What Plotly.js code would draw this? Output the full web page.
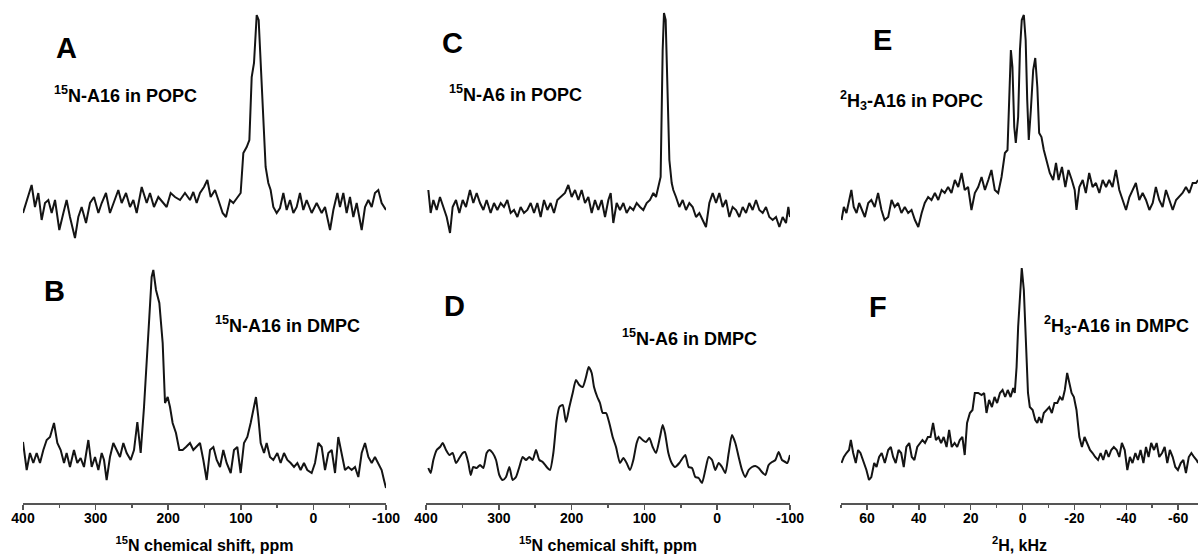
<!DOCTYPE html>
<html><head><meta charset="utf-8">
<script src="https://cdn.plot.ly/plotly-3.0.1.min.js"></script>
<style>html,body{margin:0;padding:0;background:#fff}#chart{width:1198px;height:557px}</style>
</head><body><div id="chart"></div>
<script>
// ---- Panel A: 15N-A16 in POPC (ppm vs intensity) ----
const ppmA = [400,394.9,388.1,383.5,378.9,374.3,369.7,365.1,360.5,355.9,350.0,344.4,339.9,335.3,328.4,323.8,319.2,313.2,307.7,302.2,296.2,291.6,285.7,280.2,273.3,268.7,264.1,258.1,252.6,248.0,243.4,236.5,229.6,225.1,219.6,213.6,206.7,202.1,196.6,190.6,183.7,176.9,170.0,165.4,160.8,156.2,150.7,146.1,141.5,135.5,130.9,125.0,120.4,114.9,110.3,104.8,100.2,96.5,91.9,88.2,85.0,81.8,78.1,75.4,72.6,69.0,65.8,62.1,58.9,55.2,50.6,46.0,41.4,36.8,32.2,27.6,23.0,18.5,13.9,9.3,2.4,-4.5,-11.4,-16.0,-22.9,-27.5,-33.0,-36.6,-41.2,-45.8,-50.4,-55.0,-59.6,-66.5,-71.1,-75.7,-80.3,-84.8,-89.4,-94.0,-100];
const intA = [-3,10,25,3,17,-10,7,10,-3,10,-20,-3,10,-7,-28,-7,3,-13,7,13,-3,7,17,-3,10,20,7,17,3,10,-3,23,7,17,3,13,7,3,17,13,10,17,10,18,7,17,23,30,13,20,10,-3,-7,10,7,13,17,57,63,70,133,147,195,190,143,83,43,27,20,3,-3,2,17,0,10,-3,3,17,0,10,-3,7,-3,3,-20,0,17,3,17,-3,13,-7,7,-20,3,10,3,17,20,7,0];

// ---- Panel B: 15N-A16 in DMPC ----
const ppmB = [400,394.9,390.4,385.8,381.2,376.6,372.0,367.4,362.8,357.3,352.7,348.1,343.5,339.9,335.3,329.8,325.2,320.6,316.0,310.0,305.4,300.8,296.2,291.6,288.4,284.8,280.2,275.6,271.0,266.4,261.8,257.2,251.7,247.1,242.5,237.9,233.3,229.7,226.0,222.8,220.5,216.8,212.2,207.6,204.4,200.7,197.5,193.9,189.3,184.7,180.1,175.5,170.0,165.4,160.8,156.2,151.6,147.0,142.4,137.8,133.2,128.6,124.1,119.5,113.9,109.4,104.8,100.2,95.6,91.0,86.4,82.7,79.1,75.9,72.6,68.0,64.4,59.8,55.2,49.7,45.1,40.5,35.9,31.3,26.7,22.1,17.6,13.0,8.4,2.4,-2.2,-6.8,-11.4,-16.0,-20.6,-25.2,-29.8,-34.3,-38.9,-43.5,-48.1,-52.7,-57.3,-61.9,-66.5,-71.1,-75.7,-80.3,-84.8,-89.4,-94.0,-97.2,-100];
const intB = [13,-15,2,-8,2,-8,5,15,18,32,12,5,-8,2,-12,5,-8,-3,-12,15,-12,-2,-15,2,-5,-25,-2,12,5,-2,12,2,-5,5,33,2,48,88,138,178,185,165,152,112,52,58,48,32,22,5,5,8,12,5,8,12,-5,-25,5,8,-5,-12,5,-8,-18,5,8,-18,12,18,32,45,58,38,12,2,12,-2,-5,2,-8,2,-5,-8,-12,-8,-15,-8,-15,-18,-8,12,8,-15,2,5,-18,18,2,-15,-12,-15,-12,-22,2,12,-2,-8,-2,-8,-15,-25,-33];

// ---- Panel C: 15N-A6 in POPC ----
const ppmC = [396.8,393.6,389.9,385.3,380.8,376.2,371.6,367.0,363.4,358.8,354.2,349.6,345.1,339.6,335.0,330.4,325.8,321.2,316.7,311.2,306.6,302.0,297.4,292.9,288.3,283.7,279.1,274.5,270.0,265.4,260.8,256.2,251.6,247.1,242.5,237.9,233.3,228.8,224.2,219.6,215.0,209.1,204.5,199.9,195.3,190.7,186.2,181.6,177.0,172.4,167.9,163.3,158.7,154.1,149.5,146.3,142.7,138.1,133.5,128.9,124.4,119.8,115.2,110.6,106.0,101.5,96.9,92.3,87.7,84.1,80.9,77.7,74.9,73.1,70.8,68.0,65.7,62.5,60.3,56.6,52.0,47.4,42.9,38.3,33.7,29.1,24.5,20.0,15.4,10.8,6.2,1.6,-2.9,-7.5,-12.1,-16.7,-21.2,-25.8,-30.4,-35.0,-39.6,-44.1,-48.7,-53.3,-57.9,-62.5,-67.0,-71.6,-76.2,-80.8,-85.4,-89.9,-94.5,-97.7,-100];
const intC = [20,-3,10,0,13,3,-7,-23,3,10,-3,10,3,20,7,17,7,0,10,-3,7,0,7,3,10,-3,0,-7,3,-3,0,7,-3,7,-7,10,0,7,-3,10,13,17,25,13,20,10,20,7,13,-3,10,0,10,-7,10,17,-13,7,0,7,-3,3,0,7,3,0,7,10,17,13,23,33,160,197,190,110,50,27,20,13,3,10,0,7,3,-7,-3,-10,-17,7,17,7,17,3,10,-7,3,0,-7,3,-3,7,0,10,0,-3,3,-7,-10,-7,-17,-7,-13,3,-7];

// ---- Panel D: 15N-A6 in DMPC ----
const ppmD = [396.8,393.6,389.9,385.3,380.8,377.1,372.5,367.9,363.4,358.8,354.2,349.6,346.4,341.8,338.6,335.0,330.4,325.8,321.2,316.7,313.0,308.4,303.8,299.3,294.7,290.1,285.5,281.0,276.4,271.8,267.2,262.6,258.1,253.5,248.9,244.3,239.7,234.2,229.7,225.1,220.5,216.8,212.3,207.7,203.1,198.5,194.0,189.4,184.8,180.2,176.6,172.4,169.2,164.7,161.0,157.3,152.7,148.2,143.6,139.0,133.5,128.9,124.4,119.8,115.2,110.6,107.0,102.4,97.8,93.2,88.6,84.1,78.6,74.9,71.7,67.1,62.5,58.0,52.0,47.4,43.8,39.2,34.6,30.0,25.5,20.9,16.3,11.7,7.1,2.6,-2.0,-6.6,-11.2,-15.8,-20.3,-24.9,-29.5,-34.1,-38.6,-43.2,-47.8,-52.4,-57.0,-61.5,-66.1,-70.7,-75.3,-79.9,-84.4,-89.0,-93.6,-96.3,-100];
const intD = [-13,-18,-5,5,8,12,5,0,2,-8,-3,2,3,-8,-20,-12,-13,-10,-13,2,5,2,-5,-20,-25,-22,-12,-25,-22,-12,-2,-5,-2,-5,5,-5,-7,-12,-15,2,35,48,50,33,48,62,75,70,68,78,88,82,68,58,52,42,42,32,18,8,-8,-3,-8,-15,-5,12,18,15,13,17,8,2,18,30,22,2,-8,-12,-8,-3,0,-12,-13,-22,-23,-28,-15,-2,-5,-15,-8,-12,-18,2,20,12,-2,-15,-22,-15,-12,-11,-13,-17,-20,-10,-7,-5,3,-5,-7,-8,0];

// ---- Panel E: 2H3-A16 in POPC (kHz) ----
const khzE = [69.8,68.9,67.9,66.9,66.0,65.1,64.0,63.0,62.0,60.8,59.5,58.3,57.0,55.7,54.4,53.2,51.8,50.5,49.3,48.0,46.7,45.4,44.1,42.8,41.5,40.2,38.9,37.7,36.4,35.1,33.8,32.5,31.2,30.0,28.7,27.4,26.1,24.8,23.5,22.3,21.0,19.7,18.4,17.1,15.8,14.5,13.2,12.0,10.7,9.4,8.1,6.8,5.8,5.1,4.5,3.9,3.2,2.6,1.7,1.0,0.3,-0.5,-1.2,-1.8,-2.4,-3.2,-4.1,-4.9,-5.7,-6.4,-7.3,-8.2,-9.3,-10.5,-11.8,-12.9,-13.9,-15.2,-16.5,-17.7,-19.0,-20.1,-20.8,-21.9,-23.2,-24.4,-25.7,-27.0,-28.3,-29.6,-30.9,-32.2,-33.4,-34.7,-36.0,-37.3,-38.6,-39.9,-41.2,-42.4,-43.7,-45.0,-46.3,-47.6,-48.9,-50.2,-51.4,-52.7,-54.0,-55.3,-56.6,-57.9,-59.2,-60.4,-61.7,-63.0,-64.3,-65.6,-66.9,-67.7];
const intE = [-10,3,-3,10,20,3,-3,7,0,-7,7,10,3,17,0,-10,-7,10,3,7,-3,3,-3,0,-10,-17,-3,7,13,10,17,10,20,17,23,17,30,23,37,20,23,0,17,23,33,20,30,40,20,17,33,57,60,127,160,143,83,67,93,160,190,195,170,110,70,100,140,152,123,77,73,60,50,37,30,47,30,43,23,40,30,20,0,23,30,17,37,23,27,17,30,23,30,23,40,20,10,0,13,20,27,10,17,10,0,7,23,10,3,20,10,0,10,13,17,23,17,27,27,30];

// ---- Panel F: 2H3-A16 in DMPC ----
const khzF = [69.8,68.9,67.9,66.9,66.2,65.3,64.3,63.4,62.5,61.5,60.2,59.2,58.3,57.2,56.3,55.3,54.3,53.1,51.8,50.8,49.9,48.9,47.8,46.8,45.8,44.8,43.7,42.7,41.7,40.6,39.6,38.6,37.6,36.5,35.5,34.5,33.4,32.4,31.4,30.4,29.3,28.3,27.3,26.2,25.2,24.2,23.2,22.3,21.4,20.3,19.3,18.4,17.1,15.8,14.8,13.9,12.9,11.8,10.8,9.8,8.7,7.7,6.7,5.7,4.6,3.6,3.0,2.3,1.7,1.0,0.3,-0.5,-1.3,-2.1,-2.8,-3.9,-4.9,-5.7,-6.4,-7.3,-8.2,-9.3,-10.3,-11.3,-12.3,-13.4,-14.4,-15.4,-16.3,-17.2,-18.0,-18.9,-19.8,-20.8,-21.9,-22.9,-23.9,-25.0,-26.0,-27.0,-28.0,-29.1,-30.1,-31.1,-32.2,-33.2,-34.2,-35.2,-36.3,-37.3,-38.3,-39.4,-40.4,-41.4,-42.4,-43.5,-44.5,-45.5,-46.6,-47.6,-48.6,-49.6,-50.7,-51.7,-52.7,-53.8,-54.8,-55.8,-56.8,-57.9,-58.9,-59.9,-61.0,-62.0,-63.0,-64.1,-65.1,-66.1,-67.1,-67.7];
const intF = [-8,-2,2,5,15,2,-8,5,2,-5,-15,-25,-22,-8,-12,-2,2,-8,5,8,-2,-8,5,2,-12,8,12,-2,-5,8,12,15,12,18,18,32,15,18,12,18,8,25,8,12,8,15,18,0,32,42,45,62,62,60,62,42,55,48,58,52,62,65,58,65,58,67,62,88,128,162,187,165,115,62,48,45,35,32,38,32,42,45,48,42,52,52,58,55,65,82,72,62,58,45,18,8,18,12,5,2,-2,-5,2,-5,5,-2,5,8,5,-2,12,5,-15,-2,-8,2,-5,5,-8,8,-2,12,5,12,-2,2,8,-8,5,-2,-12,-15,-8,-5,-18,-2,2,-2,-5,-8];

// ---- Tick labels & texts ----
const ppmTickVals = [400,300,200,100,0,-100];
const ppmTickText = ['400','300','200','100','0','-100'];
const ppmMinor = [350,250,150,50,-50];
const khzTickVals = [60,40,20,0,-20,-40,-60];
const khzTickText = ['60','40','20','0','-20','-40','-60'];
const khzMinor = [70,50,30,10,-10,-30,-50];
const panelLetters = ['A','B','C','D','E','F'];
const panelLabels = ['<sup>15</sup>N-A16 in POPC','<sup>15</sup>N-A16 in DMPC','<sup>15</sup>N-A6 in POPC','<sup>15</sup>N-A6 in DMPC','<sup>2</sup>H<sub>3</sub>-A16 in POPC','<sup>2</sup>H<sub>3</sub>-A16 in DMPC'];
const xTitles = ['<sup>15</sup>N chemical shift, ppm','<sup>15</sup>N chemical shift, ppm','<sup>2</sup>H, kHz'];

const W = 1198, H = 557;
const fx = p => p / W, fy = p => 1 - p / H;
const lineStyle = {color:'#141414', width:2};

const traces = [
  {x:ppmA, y:intA, xaxis:'x', yaxis:'y', mode:'lines', line:lineStyle, hoverinfo:'skip'},
  {x:ppmB, y:intB, xaxis:'x', yaxis:'y2', mode:'lines', line:lineStyle, hoverinfo:'skip'},
  {x:ppmC, y:intC, xaxis:'x2', yaxis:'y', mode:'lines', line:lineStyle, hoverinfo:'skip'},
  {x:ppmD, y:intD, xaxis:'x2', yaxis:'y2', mode:'lines', line:Object.assign({shape:'spline', smoothing:0.6}, lineStyle), hoverinfo:'skip'},
  {x:khzE, y:intE, xaxis:'x3', yaxis:'y', mode:'lines', line:lineStyle, hoverinfo:'skip'},
  {x:khzF, y:intF, xaxis:'x3', yaxis:'y2', mode:'lines', line:lineStyle, hoverinfo:'skip'}
];

function xAxis(dom, range, tv, tt, minor, title) {
  return {
    domain: dom, range: range, anchor: 'free', position: fy(503),
    showline: true, linecolor: '#555', linewidth: 1.5,
    ticks: 'outside', ticklen: 5, tickwidth: 1.5, tickcolor: '#555',
    showgrid: false, zeroline: false, fixedrange: true,
    tickmode: 'array', tickvals: tv, ticktext: tt, ticklabelstandoff: -3,
    tickfont: {size: 14, weight: 'bold', color: '#000'},
    minor: {tickmode: 'array', tickvals: minor, ticks: 'outside', ticklen: 3, tickwidth: 1.5, tickcolor: '#555', showgrid: false},
    title: {text: title, font: {size: 16, weight: 'bold', color: '#000'}, standoff: 14}
  };
}

const letterPos = [[66,48],[55,291],[452,43],[454,306],[882,40],[878,307]];
const labelPos = [[52,95],[213,324],[447,93],[620,337],[838,100],[1042,325]];
const annotations = [];
panelLetters.forEach((t,i) => annotations.push({text:'<b>'+t+'</b>', x:fx(letterPos[i][0]), y:fy(letterPos[i][1]), xref:'paper', yref:'paper', showarrow:false, xanchor:'center', yanchor:'middle', font:{size:29, color:'#000'}}));
panelLabels.forEach((t,i) => annotations.push({text:'<b>'+t+'</b>', x:fx(labelPos[i][0]), y:fy(labelPos[i][1]), xref:'paper', yref:'paper', showarrow:false, xanchor:'left', yanchor:'middle', font:{size:18, color:'#000'}}));

const layout = {
  width: W, height: H, margin: {l:0, r:0, t:0, b:0},
  paper_bgcolor: '#fff', plot_bgcolor: 'rgba(0,0,0,0)', showlegend: false,
  font: {family: 'Liberation Sans, Arial, sans-serif', color: '#000'},
  xaxis: xAxis([fx(23), fx(386)], [400, -100], ppmTickVals, ppmTickText, ppmMinor, xTitles[0]),
  xaxis2: xAxis([fx(426), fx(790)], [400, -100], ppmTickVals, ppmTickText, ppmMinor, xTitles[1]),
  xaxis3: xAxis([fx(841), 1], [70, -67.65], khzTickVals, khzTickText, khzMinor, xTitles[2]),
  yaxis: {domain: [fy(250), 1], range: [-40, 210], visible: false, fixedrange: true},
  yaxis2: {domain: [fy(500), fy(250)], range: [-45, 205], visible: false, fixedrange: true},
  annotations: annotations
};

Plotly.newPlot('chart', traces, layout, {staticPlot: true, displayModeBar: false});
</script>
</body></html>
